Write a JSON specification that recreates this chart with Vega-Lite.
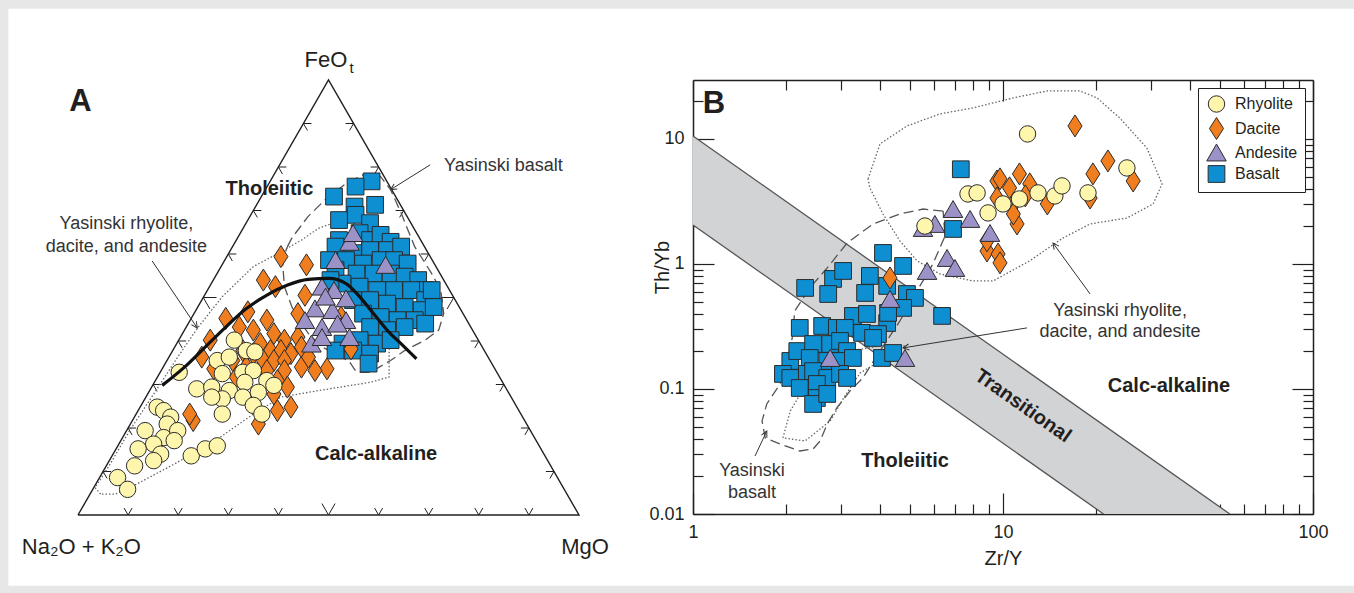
{
"$schema":"https://vega.github.io/schema/vega-lite/v6.json",
"background":"#e7e7e7",
"padding":{"left":8,"top":8,"right":0,"bottom":8},
"autosize":{"type":"pad"},
"bounds":"flush",
"spacing":114,
"config":{"view":{"stroke":null},"font":"Liberation Sans"},
"resolve":{"scale":{"color":"independent","shape":"independent","size":"independent"}},
"datasets":{
"frame":[{"u0":-13.89,"u1":254.77,"v0":-16.25,"v1":116.39}],
"tri":[{"u":0,"v":0},{"u":100,"v":0},{"u":50,"v":100},{"u":0,"v":0}],
"edgeTicks":[
{"edge":"bottom","kind":"minor","u":10,"v":0},{"edge":"bottom","kind":"minor","u":20,"v":0},{"edge":"bottom","kind":"minor","u":30,"v":0},{"edge":"bottom","kind":"minor","u":40,"v":0},{"edge":"bottom","kind":"major","u":50,"v":0},{"edge":"bottom","kind":"minor","u":60,"v":0},{"edge":"bottom","kind":"minor","u":70,"v":0},{"edge":"bottom","kind":"minor","u":80,"v":0},{"edge":"bottom","kind":"minor","u":90,"v":0},
{"edge":"left","kind":"minor","u":5,"v":10},{"edge":"left","kind":"minor","u":10,"v":20},{"edge":"left","kind":"minor","u":15,"v":30},{"edge":"left","kind":"minor","u":20,"v":40},{"edge":"left","kind":"major","u":25,"v":50},{"edge":"left","kind":"minor","u":30,"v":60},{"edge":"left","kind":"minor","u":35,"v":70},{"edge":"left","kind":"minor","u":40,"v":80},{"edge":"left","kind":"minor","u":45,"v":90},
{"edge":"right","kind":"minor","u":95,"v":10},{"edge":"right","kind":"minor","u":90,"v":20},{"edge":"right","kind":"minor","u":85,"v":30},{"edge":"right","kind":"minor","u":80,"v":40},{"edge":"right","kind":"major","u":75,"v":50},{"edge":"right","kind":"minor","u":70,"v":60},{"edge":"right","kind":"minor","u":65,"v":70},{"edge":"right","kind":"minor","u":60,"v":80},{"edge":"right","kind":"minor","u":55,"v":90}
],
"afmPoints":[
{"rock":"Basalt","u":58.6,"v":76.7},{"rock":"Basalt","u":55.4,"v":75.5},{"rock":"Basalt","u":51.1,"v":73.2},{"rock":"Basalt","u":59.3,"v":71.3},{"rock":"Basalt","u":55.2,"v":70.9},{"rock":"Basalt","u":55.4,"v":69.0},{"rock":"Basalt","u":52.1,"v":67.8},{"rock":"Basalt","u":58.3,"v":67.1},{"rock":"Basalt","u":56.2,"v":64.8},{"rock":"Basalt","u":52.1,"v":63.2},{"rock":"Basalt","u":58.3,"v":63.2},{"rock":"Basalt","u":60.4,"v":64.4},{"rock":"Basalt","u":62.4,"v":62.8},{"rock":"Basalt","u":51.4,"v":61.7},{"rock":"Basalt","u":54.9,"v":60.2},{"rock":"Basalt","u":58.3,"v":60.9},{"rock":"Basalt","u":61.7,"v":60.9},{"rock":"Basalt","u":64.5,"v":61.7},{"rock":"Basalt","u":53.5,"v":58.6},{"rock":"Basalt","u":56.9,"v":57.8},{"rock":"Basalt","u":60.4,"v":58.6},{"rock":"Basalt","u":63.1,"v":58.6},{"rock":"Basalt","u":65.8,"v":57.8},{"rock":"Basalt","u":51.4,"v":56.3},{"rock":"Basalt","u":55.6,"v":55.5},{"rock":"Basalt","u":59.0,"v":55.5},{"rock":"Basalt","u":62.4,"v":55.5},{"rock":"Basalt","u":65.2,"v":54.8},{"rock":"Basalt","u":67.9,"v":54.0},{"rock":"Basalt","u":69.3,"v":51.7},{"rock":"Basalt","u":52.8,"v":53.2},{"rock":"Basalt","u":56.2,"v":52.5},{"rock":"Basalt","u":59.7,"v":51.7},{"rock":"Basalt","u":63.1,"v":51.7},{"rock":"Basalt","u":66.5,"v":51.7},{"rock":"Basalt","u":69.3,"v":49.4},{"rock":"Basalt","u":54.9,"v":49.4},{"rock":"Basalt","u":58.3,"v":49.4},{"rock":"Basalt","u":61.7,"v":48.6},{"rock":"Basalt","u":65.2,"v":47.8},{"rock":"Basalt","u":68.6,"v":47.1},{"rock":"Basalt","u":56.9,"v":46.3},{"rock":"Basalt","u":60.4,"v":45.5},{"rock":"Basalt","u":63.8,"v":44.8},{"rock":"Basalt","u":67.2,"v":44.8},{"rock":"Basalt","u":69.3,"v":44.0},{"rock":"Basalt","u":58.3,"v":43.2},{"rock":"Basalt","u":61.7,"v":42.5},{"rock":"Basalt","u":65.2,"v":43.2},{"rock":"Basalt","u":52.8,"v":39.4},{"rock":"Basalt","u":56.2,"v":40.2},{"rock":"Basalt","u":59.7,"v":39.4},{"rock":"Basalt","u":62.4,"v":40.2},{"rock":"Basalt","u":51.4,"v":37.8},{"rock":"Basalt","u":54.9,"v":37.8},{"rock":"Basalt","u":58.3,"v":37.1},{"rock":"Basalt","u":58.0,"v":34.8},{"rock":"Basalt","u":70.6,"v":51.7},{"rock":"Basalt","u":71.0,"v":47.8},{"rock":"Basalt","u":50.1,"v":58.6},{"rock":"Basalt","u":50.4,"v":54.0},
{"rock":"Dacite","u":40.5,"v":59.4},{"rock":"Dacite","u":45.6,"v":57.5},{"rock":"Dacite","u":37.0,"v":54.0},{"rock":"Dacite","u":39.4,"v":52.5},{"rock":"Dacite","u":45.3,"v":50.5},{"rock":"Dacite","u":33.9,"v":46.7},{"rock":"Dacite","u":37.7,"v":44.8},{"rock":"Dacite","u":29.5,"v":45.2},{"rock":"Dacite","u":26.4,"v":40.2},{"rock":"Dacite","u":24.7,"v":36.3},{"rock":"Dacite","u":32.2,"v":43.2},{"rock":"Dacite","u":35.0,"v":42.5},{"rock":"Dacite","u":39.1,"v":41.7},{"rock":"Dacite","u":41.2,"v":40.2},{"rock":"Dacite","u":43.9,"v":40.9},{"rock":"Dacite","u":36.4,"v":39.4},{"rock":"Dacite","u":38.4,"v":37.8},{"rock":"Dacite","u":40.5,"v":37.8},{"rock":"Dacite","u":42.5,"v":37.1},{"rock":"Dacite","u":44.6,"v":38.6},{"rock":"Dacite","u":32.9,"v":37.8},{"rock":"Dacite","u":35.0,"v":37.1},{"rock":"Dacite","u":37.0,"v":35.5},{"rock":"Dacite","u":39.1,"v":35.5},{"rock":"Dacite","u":41.2,"v":35.5},{"rock":"Dacite","u":30.9,"v":35.5},{"rock":"Dacite","u":33.6,"v":34.0},{"rock":"Dacite","u":37.7,"v":33.2},{"rock":"Dacite","u":41.2,"v":33.2},{"rock":"Dacite","u":44.6,"v":34.0},{"rock":"Dacite","u":46.0,"v":36.3},{"rock":"Dacite","u":49.7,"v":33.6},{"rock":"Dacite","u":47.3,"v":33.2},{"rock":"Dacite","u":39.8,"v":30.9},{"rock":"Dacite","u":41.8,"v":29.4},{"rock":"Dacite","u":39.1,"v":27.8},{"rock":"Dacite","u":42.5,"v":24.8},{"rock":"Dacite","u":39.8,"v":24.0},{"rock":"Dacite","u":23.0,"v":21.7},{"rock":"Dacite","u":22.3,"v":23.2},{"rock":"Dacite","u":36.0,"v":20.9},{"rock":"Dacite","u":31.6,"v":31.7},{"rock":"Dacite","u":54.5,"v":38.2},{"rock":"Dacite","u":52.5,"v":45.5},{"rock":"Dacite","u":43.9,"v":46.3},{"rock":"Dacite","u":27.1,"v":33.6},
{"rock":"Andesite","u":54.2,"v":62.8},{"rock":"Andesite","u":54.9,"v":64.8},{"rock":"Andesite","u":51.4,"v":58.6},{"rock":"Andesite","u":61.4,"v":57.5},{"rock":"Andesite","u":48.7,"v":52.5},{"rock":"Andesite","u":51.1,"v":51.7},{"rock":"Andesite","u":53.5,"v":49.8},{"rock":"Andesite","u":47.3,"v":47.5},{"rock":"Andesite","u":50.8,"v":47.1},{"rock":"Andesite","u":53.5,"v":44.8},{"rock":"Andesite","u":48.7,"v":43.2},{"rock":"Andesite","u":51.8,"v":44.0},{"rock":"Andesite","u":45.3,"v":44.8},{"rock":"Andesite","u":46.6,"v":39.4},{"rock":"Andesite","u":48.7,"v":40.9},{"rock":"Andesite","u":54.2,"v":40.9},{"rock":"Andesite","u":49.4,"v":50.2},
{"rock":"Rhyolite","u":31.2,"v":40.2},{"rock":"Rhyolite","u":33.6,"v":37.8},{"rock":"Rhyolite","u":35.3,"v":37.5},{"rock":"Rhyolite","u":27.8,"v":35.5},{"rock":"Rhyolite","u":30.2,"v":36.3},{"rock":"Rhyolite","u":20.2,"v":32.8},{"rock":"Rhyolite","u":28.8,"v":32.5},{"rock":"Rhyolite","u":32.9,"v":32.8},{"rock":"Rhyolite","u":35.0,"v":33.2},{"rock":"Rhyolite","u":37.7,"v":30.9},{"rock":"Rhyolite","u":39.1,"v":29.8},{"rock":"Rhyolite","u":23.7,"v":29.0},{"rock":"Rhyolite","u":26.7,"v":29.4},{"rock":"Rhyolite","u":30.2,"v":28.6},{"rock":"Rhyolite","u":33.3,"v":30.5},{"rock":"Rhyolite","u":36.0,"v":28.2},{"rock":"Rhyolite","u":32.9,"v":27.1},{"rock":"Rhyolite","u":28.8,"v":26.7},{"rock":"Rhyolite","u":26.7,"v":27.1},{"rock":"Rhyolite","u":28.8,"v":23.2},{"rock":"Rhyolite","u":35.0,"v":25.2},{"rock":"Rhyolite","u":36.7,"v":23.2},{"rock":"Rhyolite","u":15.8,"v":24.8},{"rock":"Rhyolite","u":17.1,"v":24.0},{"rock":"Rhyolite","u":18.5,"v":22.5},{"rock":"Rhyolite","u":17.8,"v":20.9},{"rock":"Rhyolite","u":13.4,"v":19.4},{"rock":"Rhyolite","u":17.1,"v":17.8},{"rock":"Rhyolite","u":19.9,"v":19.4},{"rock":"Rhyolite","u":15.1,"v":16.3},{"rock":"Rhyolite","u":12.0,"v":15.2},{"rock":"Rhyolite","u":16.5,"v":14.0},{"rock":"Rhyolite","u":11.3,"v":11.3},{"rock":"Rhyolite","u":15.1,"v":12.5},{"rock":"Rhyolite","u":7.9,"v":8.6},{"rock":"Rhyolite","u":9.9,"v":5.9},{"rock":"Rhyolite","u":22.6,"v":13.6},{"rock":"Rhyolite","u":25.4,"v":15.2},{"rock":"Rhyolite","u":27.8,"v":15.9},{"rock":"Rhyolite","u":19.2,"v":17.1}
],
"afmCurve":[{"u":16.8,"v":29.8},{"u":21.26,"v":34.0},{"u":25.38,"v":38.6},{"u":29.49,"v":43.2},{"u":33.61,"v":47.46},{"u":37.72,"v":50.54},{"u":41.84,"v":52.85},{"u":45.95,"v":54.15},{"u":50.07,"v":54.38},{"u":53.5,"v":53.2},{"u":56.24,"v":50.15},{"u":58.98,"v":46.3},{"u":61.73,"v":42.46},{"u":64.47,"v":39.38},{"u":67.56,"v":35.92}],
"afmFields":[
{"field":"felsic","u":4.5,"v":4.8},{"field":"felsic","u":3.4,"v":6.3},{"field":"felsic","u":6.2,"v":11.3},{"field":"felsic","u":10.3,"v":19.4},{"field":"felsic","u":15.1,"v":27.8},{"field":"felsic","u":19.9,"v":36.3},{"field":"felsic","u":24.0,"v":43.2},{"field":"felsic","u":28.8,"v":50.2},{"field":"felsic","u":35.0,"v":57.1},{"field":"felsic","u":40.5,"v":60.5},{"field":"felsic","u":44.6,"v":63.2},{"field":"felsic","u":48.0,"v":65.9},{"field":"felsic","u":53.5,"v":68.2},{"field":"felsic","u":60.4,"v":63.2},{"field":"felsic","u":63.4,"v":55.5},{"field":"felsic","u":62.4,"v":46.3},{"field":"felsic","u":62.1,"v":37.1},{"field":"felsic","u":62.1,"v":31.7},{"field":"felsic","u":58.3,"v":30.5},{"field":"felsic","u":48.0,"v":28.6},{"field":"felsic","u":40.5,"v":27.1},{"field":"felsic","u":35.0,"v":23.2},{"field":"felsic","u":27.4,"v":17.1},{"field":"felsic","u":19.2,"v":11.7},{"field":"felsic","u":11.7,"v":7.1},{"field":"felsic","u":7.5,"v":4.8},{"field":"felsic","u":4.5,"v":4.8},
{"field":"basalt","u":41.8,"v":61.7},{"field":"basalt","u":42.7,"v":63.7},{"field":"basalt","u":45.9,"v":68.6},{"field":"basalt","u":49.7,"v":72.9},{"field":"basalt","u":53.5,"v":76.2},{"field":"basalt","u":56.9,"v":78.2},{"field":"basalt","u":60.4,"v":77.8},{"field":"basalt","u":62.4,"v":74.8},{"field":"basalt","u":64.5,"v":69.4},{"field":"basalt","u":67.2,"v":61.7},{"field":"basalt","u":70.6,"v":55.5},{"field":"basalt","u":72.4,"v":51.7},{"field":"basalt","u":73.0,"v":46.3},{"field":"basalt","u":72.0,"v":42.5},{"field":"basalt","u":69.3,"v":40.2},{"field":"basalt","u":65.2,"v":37.8},{"field":"basalt","u":62.4,"v":35.5},{"field":"basalt","u":58.3,"v":32.8},{"field":"basalt","u":55.6,"v":32.8},{"field":"basalt","u":54.2,"v":35.2},{"field":"basalt","u":51.4,"v":37.1},{"field":"basalt","u":48.7,"v":38.6},{"field":"basalt","u":46.0,"v":41.7},{"field":"basalt","u":43.2,"v":46.3},{"field":"basalt","u":41.2,"v":52.5},{"field":"basalt","u":40.8,"v":58.6},{"field":"basalt","u":41.8,"v":61.7}
],
"afmArrows":[{"arrow":"basalt","u":70.3,"v":80.5,"tip":false},{"arrow":"basalt","u":62.4,"v":74.8,"tip":true},{"arrow":"felsic","u":14.8,"v":58.4,"tip":false},{"arrow":"felsic","u":23.8,"v":43.0,"tip":true}],
"afmLabels":[{"label":"A","u":0.48,"v":94.9,"kind":"letter"},{"label":"Tholeiitic","u":38.2,"v":75.0,"kind":"region"},{"label":"Calc-alkaline","u":59.5,"v":14.0,"kind":"region"},{"label":"Yasinski basalt","u":84.9,"v":80.3,"kind":"note"},{"label":"Yasinski rhyolite,","u":9.65,"v":67.0,"kind":"note"},{"label":"dacite, and andesite","u":9.65,"v":61.5,"kind":"note"},{"label":"FeO","u":49.5,"v":103.1,"kind":"apex"},{"label":"MgO","u":101.2,"v":-9.0,"kind":"apex"},{"label":"Na₂O + K₂O","u":0.68,"v":-9.0,"kind":"apex"},{"label":"t","u":54.6,"v":101.5,"kind":"sub"}],
"band":[{"x":1,"top":10.57,"bottom":2.05},{"x":21.1,"top":0.0515,"bottom":0.01},{"x":53.9,"top":0.01,"bottom":0.01}],
"bandEdges":[{"edge":"upper","x":1,"y":10.57},{"edge":"upper","x":53.9,"y":0.01},{"edge":"lower","x":1,"y":2.05},{"edge":"lower","x":21.1,"y":0.01}],
"zry":[
{"rock":"Basalt","zr_y":7.31,"th_yb":5.72},{"rock":"Basalt","zr_y":6.90,"th_yb":1.905},{"rock":"Basalt","zr_y":2.30,"th_yb":0.643},{"rock":"Basalt","zr_y":2.83,"th_yb":0.759},{"rock":"Basalt","zr_y":3.05,"th_yb":0.879},{"rock":"Basalt","zr_y":2.73,"th_yb":0.575},{"rock":"Basalt","zr_y":4.10,"th_yb":1.225},{"rock":"Basalt","zr_y":4.76,"th_yb":0.964},{"rock":"Basalt","zr_y":3.72,"th_yb":0.802},{"rock":"Basalt","zr_y":3.59,"th_yb":0.586},{"rock":"Basalt","zr_y":4.23,"th_yb":0.667},{"rock":"Basalt","zr_y":4.90,"th_yb":0.575},{"rock":"Basalt","zr_y":5.20,"th_yb":0.535},{"rock":"Basalt","zr_y":4.76,"th_yb":0.445},{"rock":"Basalt","zr_y":4.23,"th_yb":0.337},{"rock":"Basalt","zr_y":4.26,"th_yb":0.406},{"rock":"Basalt","zr_y":3.28,"th_yb":0.384},{"rock":"Basalt","zr_y":3.64,"th_yb":0.398},{"rock":"Basalt","zr_y":6.36,"th_yb":0.384},{"rock":"Basalt","zr_y":2.21,"th_yb":0.308},{"rock":"Basalt","zr_y":2.61,"th_yb":0.319},{"rock":"Basalt","zr_y":2.91,"th_yb":0.308},{"rock":"Basalt","zr_y":3.09,"th_yb":0.308},{"rock":"Basalt","zr_y":3.51,"th_yb":0.281},{"rock":"Basalt","zr_y":3.95,"th_yb":0.275},{"rock":"Basalt","zr_y":2.06,"th_yb":0.1675},{"rock":"Basalt","zr_y":2.17,"th_yb":0.201},{"rock":"Basalt","zr_y":2.44,"th_yb":0.229},{"rock":"Basalt","zr_y":2.77,"th_yb":0.229},{"rock":"Basalt","zr_y":2.98,"th_yb":0.242},{"rock":"Basalt","zr_y":3.14,"th_yb":0.201},{"rock":"Basalt","zr_y":2.38,"th_yb":0.177},{"rock":"Basalt","zr_y":2.71,"th_yb":0.1675},{"rock":"Basalt","zr_y":2.98,"th_yb":0.1675},{"rock":"Basalt","zr_y":3.28,"th_yb":0.177},{"rock":"Basalt","zr_y":1.95,"th_yb":0.132},{"rock":"Basalt","zr_y":2.06,"th_yb":0.1225},{"rock":"Basalt","zr_y":2.33,"th_yb":0.132},{"rock":"Basalt","zr_y":2.44,"th_yb":0.139},{"rock":"Basalt","zr_y":2.71,"th_yb":0.1225},{"rock":"Basalt","zr_y":2.98,"th_yb":0.132},{"rock":"Basalt","zr_y":3.14,"th_yb":0.1225},{"rock":"Basalt","zr_y":2.51,"th_yb":0.1096},{"rock":"Basalt","zr_y":2.21,"th_yb":0.1018},{"rock":"Basalt","zr_y":2.51,"th_yb":0.0847},{"rock":"Basalt","zr_y":2.44,"th_yb":0.0759},{"rock":"Basalt","zr_y":2.71,"th_yb":0.0912},{"rock":"Basalt","zr_y":4.07,"th_yb":0.177},{"rock":"Basalt","zr_y":4.42,"th_yb":0.194},{"rock":"Basalt","zr_y":3.81,"th_yb":0.256},
{"rock":"Dacite","zr_y":4.32,"th_yb":0.773},{"rock":"Dacite","zr_y":9.56,"th_yb":4.61},{"rock":"Dacite","zr_y":9.56,"th_yb":3.37},{"rock":"Dacite","zr_y":17.07,"th_yb":12.7},{"rock":"Dacite","zr_y":21.8,"th_yb":6.67},{"rock":"Dacite","zr_y":19.5,"th_yb":5.25},{"rock":"Dacite","zr_y":26.3,"th_yb":4.61},{"rock":"Dacite","zr_y":9.78,"th_yb":4.79},{"rock":"Dacite","zr_y":10.5,"th_yb":4.06},{"rock":"Dacite","zr_y":11.3,"th_yb":5.25},{"rock":"Dacite","zr_y":12.2,"th_yb":4.37},{"rock":"Dacite","zr_y":10.8,"th_yb":3.02},{"rock":"Dacite","zr_y":11.1,"th_yb":2.09},{"rock":"Dacite","zr_y":13.9,"th_yb":3.02},{"rock":"Dacite","zr_y":19.1,"th_yb":3.37},{"rock":"Dacite","zr_y":8.88,"th_yb":1.27},{"rock":"Dacite","zr_y":9.64,"th_yb":1.20},{"rock":"Dacite","zr_y":9.78,"th_yb":1.02},{"rock":"Dacite","zr_y":10.8,"th_yb":2.51},{"rock":"Dacite","zr_y":8.88,"th_yb":1.53},{"rock":"Dacite","zr_y":11.8,"th_yb":3.50},
{"rock":"Andesite","zr_y":5.52,"th_yb":1.94},{"rock":"Andesite","zr_y":6.03,"th_yb":2.09},{"rock":"Andesite","zr_y":6.90,"th_yb":2.75},{"rock":"Andesite","zr_y":7.83,"th_yb":2.29},{"rock":"Andesite","zr_y":9.08,"th_yb":1.77},{"rock":"Andesite","zr_y":6.60,"th_yb":1.117},{"rock":"Andesite","zr_y":7.00,"th_yb":0.929},{"rock":"Andesite","zr_y":5.69,"th_yb":0.879},{"rock":"Andesite","zr_y":4.32,"th_yb":0.525},{"rock":"Andesite","zr_y":2.77,"th_yb":0.177},{"rock":"Andesite","zr_y":4.83,"th_yb":0.177},
{"rock":"Rhyolite","zr_y":5.60,"th_yb":2.01},{"rock":"Rhyolite","zr_y":7.71,"th_yb":3.63},{"rock":"Rhyolite","zr_y":8.25,"th_yb":3.70},{"rock":"Rhyolite","zr_y":8.95,"th_yb":2.56},{"rock":"Rhyolite","zr_y":12.0,"th_yb":10.96},{"rock":"Rhyolite","zr_y":10.0,"th_yb":3.02},{"rock":"Rhyolite","zr_y":11.3,"th_yb":3.31},{"rock":"Rhyolite","zr_y":12.97,"th_yb":3.70},{"rock":"Rhyolite","zr_y":14.7,"th_yb":3.50},{"rock":"Rhyolite","zr_y":15.5,"th_yb":4.21},{"rock":"Rhyolite","zr_y":18.8,"th_yb":3.70},{"rock":"Rhyolite","zr_y":25.1,"th_yb":5.86}
],
"zryFields":[
{"field":"felsic","x":3.67,"y":4.79},{"field":"felsic","x":4.01,"y":9.12},{"field":"felsic","x":4.90,"y":12.7},{"field":"felsic","x":6.26,"y":15.85},{"field":"felsic","x":8.00,"y":17.7},{"field":"felsic","x":10.8,"y":21.3},{"field":"felsic","x":13.9,"y":24.2},{"field":"felsic","x":17.7,"y":24.2},{"field":"felsic","x":20.1,"y":21.3},{"field":"felsic","x":23.8,"y":14.7},{"field":"felsic","x":29.1,"y":8.47},{"field":"felsic","x":32.6,"y":4.37},{"field":"felsic","x":30.5,"y":3.02},{"field":"felsic","x":25.1,"y":2.33},{"field":"felsic","x":19.1,"y":2.09},{"field":"felsic","x":15.6,"y":1.61},{"field":"felsic","x":12.2,"y":1.06},{"field":"felsic","x":9.29,"y":0.731},{"field":"felsic","x":8.00,"y":0.731},{"field":"felsic","x":6.26,"y":0.832},{"field":"felsic","x":5.28,"y":1.06},{"field":"felsic","x":4.65,"y":1.53},{"field":"felsic","x":4.10,"y":2.51},{"field":"felsic","x":3.72,"y":4.06},{"field":"felsic","x":3.67,"y":4.79},
{"field":"felsicLow","x":1.95,"y":0.0406},{"field":"felsicLow","x":2.06,"y":0.0667},{"field":"felsicLow","x":2.30,"y":0.1057},{"field":"felsicLow","x":2.67,"y":0.153},{"field":"felsicLow","x":3.21,"y":0.201},{"field":"felsicLow","x":4.01,"y":0.221},{"field":"felsicLow","x":4.83,"y":0.221},{"field":"felsicLow","x":4.83,"y":0.1837},{"field":"felsicLow","x":4.01,"y":0.1675},{"field":"felsicLow","x":3.46,"y":0.1343},{"field":"felsicLow","x":3.09,"y":0.0879},{"field":"felsicLow","x":2.77,"y":0.0555},{"field":"felsicLow","x":2.30,"y":0.0384},{"field":"felsicLow","x":1.95,"y":0.0406},
{"field":"basalt","x":6.41,"y":2.65},{"field":"basalt","x":5.52,"y":2.75},{"field":"basalt","x":4.65,"y":2.51},{"field":"basalt","x":3.81,"y":2.09},{"field":"basalt","x":3.14,"y":1.47},{"field":"basalt","x":2.71,"y":0.929},{"field":"basalt","x":2.38,"y":0.643},{"field":"basalt","x":2.13,"y":0.421},{"field":"basalt","x":2.09,"y":0.256},{"field":"basalt","x":2.01,"y":0.1675},{"field":"basalt","x":1.91,"y":0.1096},{"field":"basalt","x":1.73,"y":0.0759},{"field":"basalt","x":1.67,"y":0.0555},{"field":"basalt","x":1.71,"y":0.0406},{"field":"basalt","x":1.91,"y":0.0363},{"field":"basalt","x":2.21,"y":0.0319},{"field":"basalt","x":2.44,"y":0.0331},{"field":"basalt","x":2.57,"y":0.0384},{"field":"basalt","x":2.71,"y":0.0525},{"field":"basalt","x":2.91,"y":0.0705},{"field":"basalt","x":3.21,"y":0.0964},{"field":"basalt","x":3.53,"y":0.1225},{"field":"basalt","x":4.01,"y":0.201},{"field":"basalt","x":4.65,"y":0.350},{"field":"basalt","x":5.28,"y":0.608},{"field":"basalt","x":5.94,"y":1.0},{"field":"basalt","x":6.50,"y":1.67},{"field":"basalt","x":6.41,"y":2.65}
],
"zryArrows":[{"arrow":"upper","x":19.1,"y":0.575,"tip":false},{"arrow":"upper","x":14.5,"y":1.47,"tip":true},{"arrow":"lower","x":11.95,"y":0.308,"tip":false},{"arrow":"lower","x":4.76,"y":0.213,"tip":true},{"arrow":"basalt","x":1.585,"y":0.0291,"tip":false},{"arrow":"basalt","x":1.73,"y":0.0461,"tip":true}],
"zryLabels":[{"label":"B","x":1.169,"y":19.2,"kind":"letter"},{"label":"Calc-alkaline","x":34.3,"y":0.1057,"kind":"region"},{"label":"Tholeiitic","x":4.83,"y":0.0265,"kind":"region"},{"label":"Transitional","x":11.6,"y":0.0731,"kind":"band"},{"label":"Yasinski rhyolite,","x":23.85,"y":0.421,"kind":"note"},{"label":"dacite, and andesite","x":23.85,"y":0.286,"kind":"note"},{"label":"Yasinski","x":1.55,"y":0.0221,"kind":"note"},{"label":"basalt","x":1.55,"y":0.0147,"kind":"note"}]
},
"hconcat":[
{
"width":501,"height":435,
"resolve":{"scale":{"shape":"independent","size":"independent"}},
"layer":[
{"data":{"name":"frame"},"mark":{"type":"rect","fill":"white"},
 "encoding":{"x":{"field":"u0","type":"quantitative","scale":{"domain":[0,100],"nice":false,"zero":false},"axis":null},"x2":{"field":"u1"},
 "y":{"field":"v0","type":"quantitative","scale":{"domain":[0,100],"nice":false,"zero":false},"axis":null},"y2":{"field":"v1"}}},
{"data":{"name":"tri"},"mark":{"type":"line","color":"#231f20","strokeWidth":1.4},
 "encoding":{"x":{"field":"u","type":"quantitative","scale":{"domain":[0,100],"nice":false,"zero":false},"axis":null},"y":{"field":"v","type":"quantitative","scale":{"domain":[0,100],"nice":false,"zero":false},"axis":null},"order":{"value":null}}},
{"data":{"name":"edgeTicks"},"mark":{"type":"point","filled":false,"color":"#231f20","strokeWidth":1,"opacity":1},
 "encoding":{"x":{"field":"u","type":"quantitative","scale":{"domain":[0,100],"nice":false,"zero":false},"axis":null},"y":{"field":"v","type":"quantitative","scale":{"domain":[0,100],"nice":false,"zero":false},"axis":null},
 "shape":{"field":"edge","type":"nominal","scale":{"domain":["bottom","left","right"],"range":["M-0.5,-0.866L0,0L0.5,-0.866","M1,0L0,0L0.5,0.866","M-1,0L0,0L-0.5,0.866"]},"legend":null},
 "size":{"field":"kind","type":"nominal","scale":{"type":"ordinal","domain":["minor","major"],"range":[256,700]},"legend":null}}},
{"data":{"name":"afmFields"},"transform":[{"filter":"datum.field=='felsic'"}],"mark":{"type":"line","color":"#666","strokeWidth":1.3,"strokeDash":[1.5,2]},
 "encoding":{"x":{"field":"u","type":"quantitative","scale":{"domain":[0,100],"nice":false,"zero":false},"axis":null},"y":{"field":"v","type":"quantitative","scale":{"domain":[0,100],"nice":false,"zero":false},"axis":null},"order":{"value":null}}},
{"data":{"name":"afmFields"},"transform":[{"filter":"datum.field=='basalt'"}],"mark":{"type":"line","color":"#555","strokeWidth":1.3,"strokeDash":[10,5]},
 "encoding":{"x":{"field":"u","type":"quantitative","scale":{"domain":[0,100],"nice":false,"zero":false},"axis":null},"y":{"field":"v","type":"quantitative","scale":{"domain":[0,100],"nice":false,"zero":false},"axis":null},"order":{"value":null}}},
{"data":{"name":"afmArrows"},"mark":{"type":"line","color":"#333","strokeWidth":1},
 "encoding":{"x":{"field":"u","type":"quantitative","scale":{"domain":[0,100],"nice":false,"zero":false},"axis":null},"y":{"field":"v","type":"quantitative","scale":{"domain":[0,100],"nice":false,"zero":false},"axis":null},"detail":{"field":"arrow"},"order":{"value":null}}},
{"data":{"name":"afmArrows"},"transform":[{"filter":"datum.tip && datum.arrow=='basalt'"}],"mark":{"type":"point","shape":"M-0.5,1L0,0L0.5,1","filled":false,"color":"#333","strokeWidth":1,"opacity":1,"size":144,"angle":238},
 "encoding":{"x":{"field":"u","type":"quantitative","scale":{"domain":[0,100],"nice":false,"zero":false},"axis":null},"y":{"field":"v","type":"quantitative","scale":{"domain":[0,100],"nice":false,"zero":false},"axis":null}}},
{"data":{"name":"afmArrows"},"transform":[{"filter":"datum.tip && datum.arrow=='felsic'"}],"mark":{"type":"point","shape":"M-0.5,1L0,0L0.5,1","filled":false,"color":"#333","strokeWidth":1,"opacity":1,"size":144,"angle":146},
 "encoding":{"x":{"field":"u","type":"quantitative","scale":{"domain":[0,100],"nice":false,"zero":false},"axis":null},"y":{"field":"v","type":"quantitative","scale":{"domain":[0,100],"nice":false,"zero":false},"axis":null}}},
{"data":{"name":"afmPoints"},"mark":{"type":"point","filled":true,"stroke":"#2b2b2b","strokeWidth":1,"opacity":1},
 "encoding":{"x":{"field":"u","type":"quantitative","scale":{"domain":[0,100],"nice":false,"zero":false},"axis":null},"y":{"field":"v","type":"quantitative","scale":{"domain":[0,100],"nice":false,"zero":false},"axis":null},
 "color":{"field":"rock","type":"nominal","scale":{"domain":["Rhyolite","Dacite","Andesite","Basalt"],"range":["#fff6ae","#f07e1f","#9d92c8","#0d8fd1"]},"legend":null},
 "shape":{"field":"rock","type":"nominal","scale":{"domain":["Rhyolite","Dacite","Andesite","Basalt"],"range":["circle","M0,-1L0.64,0L0,1L-0.64,0Z","triangle-up","square"]},"legend":null},
 "size":{"field":"rock","type":"nominal","scale":{"type":"ordinal","domain":["Rhyolite","Dacite","Andesite","Basalt"],"range":[270,484,380,280]},"legend":null}}},
{"data":{"name":"afmCurve"},"mark":{"type":"line","color":"#111","strokeWidth":3.2,"interpolate":"monotone"},
 "encoding":{"x":{"field":"u","type":"quantitative","scale":{"domain":[0,100],"nice":false,"zero":false},"axis":null},"y":{"field":"v","type":"quantitative","scale":{"domain":[0,100],"nice":false,"zero":false},"axis":null}}},
{"data":{"name":"afmLabels"},"transform":[{"filter":"datum.kind=='letter'"}],"mark":{"type":"text","fontSize":31,"fontWeight":"bold","color":"#231f20","align":"center","baseline":"middle"},
 "encoding":{"x":{"field":"u","type":"quantitative","scale":{"domain":[0,100],"nice":false,"zero":false},"axis":null},"y":{"field":"v","type":"quantitative","scale":{"domain":[0,100],"nice":false,"zero":false},"axis":null},"text":{"field":"label"}}},
{"data":{"name":"afmLabels"},"transform":[{"filter":"datum.kind=='region'"}],"mark":{"type":"text","fontSize":20,"fontWeight":"bold","color":"#231f20","align":"center","baseline":"middle"},
 "encoding":{"x":{"field":"u","type":"quantitative","scale":{"domain":[0,100],"nice":false,"zero":false},"axis":null},"y":{"field":"v","type":"quantitative","scale":{"domain":[0,100],"nice":false,"zero":false},"axis":null},"text":{"field":"label"}}},
{"data":{"name":"afmLabels"},"transform":[{"filter":"datum.kind=='note'"}],"mark":{"type":"text","fontSize":18,"color":"#333","align":"center","baseline":"middle"},
 "encoding":{"x":{"field":"u","type":"quantitative","scale":{"domain":[0,100],"nice":false,"zero":false},"axis":null},"y":{"field":"v","type":"quantitative","scale":{"domain":[0,100],"nice":false,"zero":false},"axis":null},"text":{"field":"label"}}},
{"data":{"name":"afmLabels"},"transform":[{"filter":"datum.kind=='apex'"}],"mark":{"type":"text","fontSize":22,"color":"#231f20","align":"center","baseline":"alphabetic"},
 "encoding":{"x":{"field":"u","type":"quantitative","scale":{"domain":[0,100],"nice":false,"zero":false},"axis":null},"y":{"field":"v","type":"quantitative","scale":{"domain":[0,100],"nice":false,"zero":false},"axis":null},"text":{"field":"label"}}},
{"data":{"name":"afmLabels"},"transform":[{"filter":"datum.kind=='sub'"}],"mark":{"type":"text","fontSize":15,"color":"#231f20","align":"center","baseline":"alphabetic"},
 "encoding":{"x":{"field":"u","type":"quantitative","scale":{"domain":[0,100],"nice":false,"zero":false},"axis":null},"y":{"field":"v","type":"quantitative","scale":{"domain":[0,100],"nice":false,"zero":false},"axis":null},"text":{"field":"label"}}}
]
},
{
"width":620,"height":434,
"resolve":{"axis":{"x":"independent","y":"independent"}},
"layer":[
{"data":{"name":"band"},"mark":{"type":"area","color":"#d2d3d5","opacity":1},
 "encoding":{"x":{"field":"x","type":"quantitative","scale":{"type":"log","domain":[1,100],"nice":false},"axis":null},"y":{"field":"top","type":"quantitative","scale":{"type":"log","domain":[0.01,29.6],"nice":false},"axis":null},"y2":{"field":"bottom"}}},
{"data":{"name":"bandEdges"},"mark":{"type":"line","color":"#555","strokeWidth":1.3},
 "encoding":{
 "x":{"field":"x","type":"quantitative","scale":{"type":"log","domain":[1,100],"nice":false},
  "axis":{"orient":"top","values":[1,2,3,4,5,6,7,8,9,10,20,30,40,50,60,70,80,90,100],"labels":false,"title":null,"grid":false,"tickColor":"#231f20","tickWidth":1.2,"domainColor":"#231f20","domainWidth":1.5,
  "tickSize":{"condition":{"test":"datum.value==1||datum.value==10||datum.value==100","value":-21},"value":-10}}},
 "y":{"field":"y","type":"quantitative","scale":{"type":"log","domain":[0.01,29.6],"nice":false},
  "axis":{"orient":"right","values":[0.01,0.02,0.03,0.04,0.05,0.06,0.07,0.08,0.09,0.1,0.2,0.3,0.4,0.5,0.6,0.7,0.8,0.9,1,2,3,4,5,6,7,8,9,10,20],"labels":false,"title":null,"grid":false,"tickColor":"#231f20","tickWidth":1.2,"domainColor":"#231f20","domainWidth":1.5,
  "tickSize":{"condition":{"test":"datum.value==0.01||datum.value==0.1||datum.value==1||datum.value==10","value":-21},"value":-10}}},
 "detail":{"field":"edge"}}},
{"data":{"name":"zryFields"},"transform":[{"filter":"datum.field!='basalt'"}],"mark":{"type":"line","color":"#666","strokeWidth":1.3,"strokeDash":[1.5,2]},
 "encoding":{"x":{"field":"x","type":"quantitative","scale":{"type":"log","domain":[1,100],"nice":false},"axis":null},"y":{"field":"y","type":"quantitative","scale":{"type":"log","domain":[0.01,29.6],"nice":false},"axis":null},"detail":{"field":"field"},"order":{"value":null}}},
{"data":{"name":"zryFields"},"transform":[{"filter":"datum.field=='basalt'"}],"mark":{"type":"line","color":"#555","strokeWidth":1.3,"strokeDash":[10,5]},
 "encoding":{"x":{"field":"x","type":"quantitative","scale":{"type":"log","domain":[1,100],"nice":false},"axis":null},"y":{"field":"y","type":"quantitative","scale":{"type":"log","domain":[0.01,29.6],"nice":false},"axis":null},"order":{"value":null}}},
{"data":{"name":"zryArrows"},"mark":{"type":"line","color":"#333","strokeWidth":1},
 "encoding":{"x":{"field":"x","type":"quantitative","scale":{"type":"log","domain":[1,100],"nice":false},"axis":null},"y":{"field":"y","type":"quantitative","scale":{"type":"log","domain":[0.01,29.6],"nice":false},"axis":null},"detail":{"field":"arrow"},"order":{"value":null}}},
{"data":{"name":"zryArrows"},"transform":[{"filter":"datum.tip && datum.arrow=='upper'"}],"mark":{"type":"point","shape":"M-0.5,1L0,0L0.5,1","filled":false,"color":"#333","strokeWidth":1,"opacity":1,"size":144,"angle":324},
 "encoding":{"x":{"field":"x","type":"quantitative","scale":{"type":"log","domain":[1,100],"nice":false},"axis":null},"y":{"field":"y","type":"quantitative","scale":{"type":"log","domain":[0.01,29.6],"nice":false},"axis":null}}},
{"data":{"name":"zryArrows"},"transform":[{"filter":"datum.tip && datum.arrow=='lower'"}],"mark":{"type":"point","shape":"M-0.5,1L0,0L0.5,1","filled":false,"color":"#333","strokeWidth":1,"opacity":1,"size":144,"angle":261},
 "encoding":{"x":{"field":"x","type":"quantitative","scale":{"type":"log","domain":[1,100],"nice":false},"axis":null},"y":{"field":"y","type":"quantitative","scale":{"type":"log","domain":[0.01,29.6],"nice":false},"axis":null}}},
{"data":{"name":"zryArrows"},"transform":[{"filter":"datum.tip && datum.arrow=='basalt'"}],"mark":{"type":"point","shape":"M-0.5,1L0,0L0.5,1","filled":false,"color":"#333","strokeWidth":1,"opacity":1,"size":144,"angle":26},
 "encoding":{"x":{"field":"x","type":"quantitative","scale":{"type":"log","domain":[1,100],"nice":false},"axis":null},"y":{"field":"y","type":"quantitative","scale":{"type":"log","domain":[0.01,29.6],"nice":false},"axis":null}}},
{"data":{"name":"zry"},"mark":{"type":"point","filled":true,"stroke":"#2b2b2b","strokeWidth":1,"opacity":1},
 "encoding":{
 "x":{"field":"zr_y","type":"quantitative","scale":{"type":"log","domain":[1,100],"nice":false},
  "axis":{"orient":"bottom","values":[1,2,3,4,5,6,7,8,9,10,20,30,40,50,60,70,80,90,100],"format":"~g","labelExpr":"datum.value==1||datum.value==10||datum.value==100 ? datum.label : ''",
  "tickSize":{"condition":{"test":"datum.value==1||datum.value==10||datum.value==100","value":-21},"value":-10},"labelPadding":30,
  "labelFontSize":18,"labelColor":"#231f20","labelFont":"Liberation Sans","labelFlush":false,"labelOverlap":false,
  "tickColor":"#231f20","tickWidth":1.2,"domainColor":"#231f20","domainWidth":1.5,"grid":false,
  "title":"Zr/Y","titleFont":"Liberation Sans","titleFontSize":20,"titleFontWeight":"normal","titleColor":"#231f20","titleY":44,"titleBaseline":"middle"}},
 "y":{"field":"th_yb","type":"quantitative","scale":{"type":"log","domain":[0.01,29.6],"nice":false},
  "axis":{"orient":"left","values":[0.01,0.02,0.03,0.04,0.05,0.06,0.07,0.08,0.09,0.1,0.2,0.3,0.4,0.5,0.6,0.7,0.8,0.9,1,2,3,4,5,6,7,8,9,10,20],"format":"~g","labelExpr":"datum.value==0.01||datum.value==0.1||datum.value==1||datum.value==10 ? datum.label : ''",
  "tickSize":{"condition":{"test":"datum.value==0.01||datum.value==0.1||datum.value==1||datum.value==10","value":-21},"value":-10},"labelPadding":30,
  "labelFontSize":18,"labelColor":"#231f20","labelFont":"Liberation Sans","labelFlush":false,"labelOverlap":false,
  "tickColor":"#231f20","tickWidth":1.2,"domainColor":"#231f20","domainWidth":1.5,"grid":false,
  "title":"Th/Yb","titleFont":"Liberation Sans","titleFontSize":20,"titleFontWeight":"normal","titleColor":"#231f20","titleX":-31,"titleY":187,"titleBaseline":"middle","titleAngle":270}},
 "color":{"field":"rock","type":"nominal","scale":{"domain":["Rhyolite","Dacite","Andesite","Basalt"],"range":["#fff6ae","#f07e1f","#9d92c8","#0d8fd1"]},
  "legend":{"orient":"top-right","offset":8,"title":null,"strokeColor":"#231f20","fillColor":"white","padding":7,"labelFontSize":16,"labelFont":"Liberation Sans","labelColor":"#231f20","symbolSize":250,"symbolStrokeColor":"#2b2b2b","symbolStrokeWidth":1,"rowPadding":0,"labelOffset":7}},
 "shape":{"field":"rock","type":"nominal","scale":{"domain":["Rhyolite","Dacite","Andesite","Basalt"],"range":["circle","M0,-1L0.64,0L0,1L-0.64,0Z","triangle-up","square"]},
  "legend":{"orient":"top-right","offset":8,"title":null,"strokeColor":"#231f20","fillColor":"white","padding":7,"labelFontSize":16,"labelFont":"Liberation Sans","labelColor":"#231f20","symbolSize":250,"symbolStrokeColor":"#2b2b2b","symbolStrokeWidth":1,"rowPadding":0,"labelOffset":7}},
 "size":{"field":"rock","type":"nominal","scale":{"type":"ordinal","domain":["Rhyolite","Dacite","Andesite","Basalt"],"range":[270,484,380,280]},"legend":null}}},
{"data":{"name":"zryLabels"},"transform":[{"filter":"datum.kind=='letter'"}],"mark":{"type":"text","fontSize":31,"fontWeight":"bold","color":"#231f20","align":"center","baseline":"middle"},
 "encoding":{"x":{"field":"x","type":"quantitative","scale":{"type":"log","domain":[1,100],"nice":false},"axis":null},"y":{"field":"y","type":"quantitative","scale":{"type":"log","domain":[0.01,29.6],"nice":false},"axis":null},"text":{"field":"label"}}},
{"data":{"name":"zryLabels"},"transform":[{"filter":"datum.kind=='region'"}],"mark":{"type":"text","fontSize":20,"fontWeight":"bold","color":"#231f20","align":"center","baseline":"middle"},
 "encoding":{"x":{"field":"x","type":"quantitative","scale":{"type":"log","domain":[1,100],"nice":false},"axis":null},"y":{"field":"y","type":"quantitative","scale":{"type":"log","domain":[0.01,29.6],"nice":false},"axis":null},"text":{"field":"label"}}},
{"data":{"name":"zryLabels"},"transform":[{"filter":"datum.kind=='band'"}],"mark":{"type":"text","fontSize":20,"fontWeight":"bold","color":"#231f20","align":"center","baseline":"middle","angle":35},
 "encoding":{"x":{"field":"x","type":"quantitative","scale":{"type":"log","domain":[1,100],"nice":false},"axis":null},"y":{"field":"y","type":"quantitative","scale":{"type":"log","domain":[0.01,29.6],"nice":false},"axis":null},"text":{"field":"label"}}},
{"data":{"name":"zryLabels"},"transform":[{"filter":"datum.kind=='note'"}],"mark":{"type":"text","fontSize":18,"color":"#333","align":"center","baseline":"middle"},
 "encoding":{"x":{"field":"x","type":"quantitative","scale":{"type":"log","domain":[1,100],"nice":false},"axis":null},"y":{"field":"y","type":"quantitative","scale":{"type":"log","domain":[0.01,29.6],"nice":false},"axis":null},"text":{"field":"label"}}}
]
}
]
}
